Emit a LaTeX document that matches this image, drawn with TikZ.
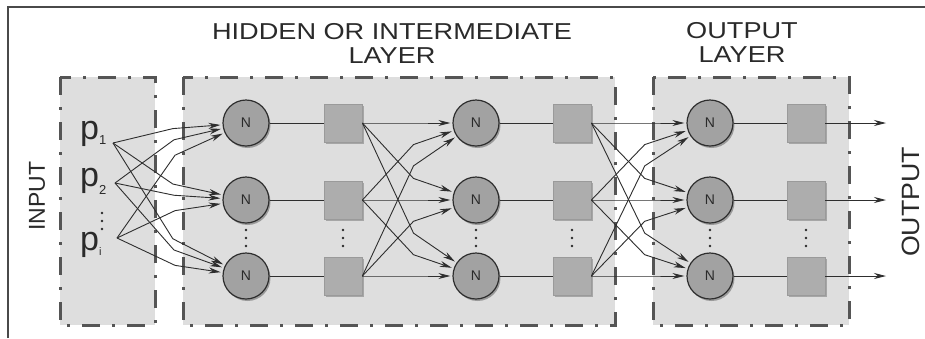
\documentclass[tikz,border=0pt]{standalone}
\usepackage{fontspec}
\setmainfont{Liberation Sans}
\usetikzlibrary{arrows.meta,shadows,calc}

\definecolor{boxfill}{HTML}{DEDEDE}
\definecolor{boxline}{HTML}{555555}
\definecolor{neuronfill}{HTML}{A2A2A2}
\definecolor{neuronline}{HTML}{2E2E2E}
\definecolor{unitfill}{HTML}{ADADAD}
\definecolor{unitline}{HTML}{9A9A9A}
\definecolor{linkcolor}{HTML}{2E2E2E}
\definecolor{framecolor}{HTML}{4A4A4A}
\definecolor{labelcolor}{HTML}{2A2A2A}

% polyline from a source to a target with one bend on the way
\newcommand\fanlink[2]{%
  \draw[arrowlink] let \p1=(#1), \p2=(#2) in
    (#1) -- ({\x1+0.45*(\x2-\x1)},{\y1+0.72*(\y2-\y1)}) -- (#2);}

\newcommand\vdotsat[1]{%
  \foreach \dy in {0,8,16}
    \fill[labelcolor] ($(#1)+(0,\dy)$) circle (1.3pt);}

\begin{document}
\begin{tikzpicture}[x=1pt,y=-1pt,
  layerbox/.style={fill=boxfill, draw=boxline, line width=3pt,
    dash pattern=on 18pt off 12pt on 3pt off 12pt},
  neuron/.style={circle, minimum size=46pt, inner sep=0pt,
    fill=neuronfill, draw=neuronline, line width=1.2pt,
    text=labelcolor, font=\fontsize{14}{14}\selectfont,
    drop shadow={shadow xshift=1.5pt, shadow yshift=-2pt, opacity=.3, fill=black}},
  unit/.style={rectangle, minimum size=38pt, inner sep=0pt,
    fill=unitfill, draw=unitline, line width=0.8pt,
    drop shadow={shadow xshift=1.5pt, shadow yshift=-1.5pt, opacity=.25, fill=black}},
  link/.style={draw=linkcolor, line width=0.9pt},
  arrowlink/.style={link, -{Stealth[length=12pt,width=6pt]}, shorten >=2pt},
  title/.style={text=labelcolor, font=\fontsize{23}{24}\selectfont, inner sep=0pt},
  plabel/.style={text=labelcolor, font=\fontsize{34}{34}\selectfont, inner sep=0pt, anchor=base west},
]
\useasboundingbox (0,0) rectangle (925,338);
\fill[white] (0,0) rectangle (925,338);

% frame lines
\draw[framecolor, line width=2pt] (8,338) -- (8,7) -- (925,7);

% layer regions
\draw[layerbox] (60,77) rectangle (155,325);
\draw[layerbox] (183,77) rectangle (615,325);
\draw[layerbox] (653,77) rectangle (849,325);

% titles
\node[title, align=center, anchor=north] (thidden) at (392,23)
  {\scalebox{1.18}[1]{HIDDEN OR INTERMEDIATE}\\\scalebox{1.18}[1]{LAYER}};
\node[title, align=center, anchor=north] (toutput) at (742,22)
  {\scalebox{1.18}[1]{OUTPUT}\\\scalebox{1.18}[1]{LAYER}};
\node[title, rotate=90] (tinput) at (37,196) {INPUT};
\node[title, rotate=90, font=\fontsize{25}{25}\selectfont] (tout) at (911,202)
  {\scalebox{1.07}[1]{OUTPUT}};

% inputs
\node[plabel] (p1) at (80,139) {p\raisebox{-0.3ex}{\fontsize{13}{13}\selectfont 1}};
\node[plabel] (p2) at (80,186) {p\raisebox{-0.45ex}{\fontsize{13}{13}\selectfont 2}};
\node[plabel] (p3) at (80,250) {p\raisebox{-0.3ex}{\fontsize{11}{11}\selectfont i}};
\vdotsat{102,213}
\coordinate (s1) at (113,143);
\coordinate (s2) at (115,183);
\coordinate (s3) at (117,238);

% neurons and transfer units
\foreach \r/\y in {1/123,2/200,3/276} {
  \node[neuron] (a\r) at (246,\y) {N};
  \node[unit]   (u\r) at (343,\y) {};
  \node[neuron] (b\r) at (476,\y) {N};
  \node[unit]   (v\r) at (572,\y) {};
  \node[neuron] (c\r) at (710,\y) {N};
  \node[unit]   (w\r) at (806,\y) {};
  \coordinate   (o\r) at (886,\y);
}
\foreach \xx in {246,343,476,572,710,806} { \vdotsat{\xx,230} }

% neuron to unit
\foreach \r in {1,2,3} {
  \draw[link] (a\r) -- (u\r);
  \draw[link] (b\r) -- (v\r);
  \draw[link] (c\r) -- (w\r);
  \draw[arrowlink, shorten >=0pt] (w\r.east) -- (o\r);
}

% full connections between layers
\foreach \j in {1,2,3} {
  \foreach \k in {1,2,3} {
    \fanlink{s\j}{a\k}
    \fanlink{u\j.east}{b\k}
    \fanlink{v\j.east}{c\k}
  }
}
\end{tikzpicture}
\end{document}
